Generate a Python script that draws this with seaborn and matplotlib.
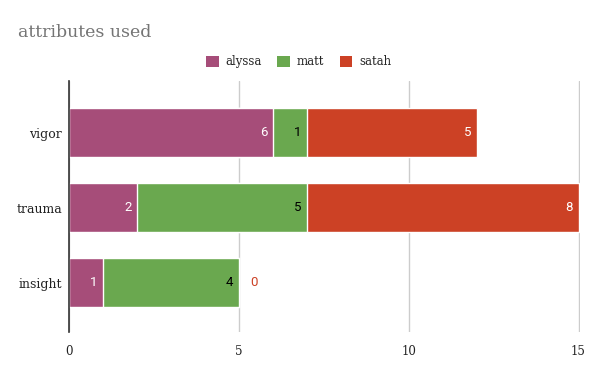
import matplotlib
matplotlib.use("Agg")
import matplotlib.pyplot as plt
import seaborn as sns
import pandas as pd
from matplotlib.patches import Patch

# data
categories = ["vigor", "trauma", "insight"]
alyssa = [6, 2, 1]
matt = [1, 5, 4]
satah = [5, 8, 0]
series_names = ["alyssa", "matt", "satah"]
colors = {"alyssa": "#a64d79", "matt": "#6aa84f", "satah": "#cc4125"}
label_colors = {"alyssa": "white", "matt": "black", "satah": "white"}
x_ticks = [0, 5, 10, 15]

df = pd.DataFrame({"attribute": categories, "alyssa": alyssa, "matt": matt, "satah": satah})
df["cum_alyssa"] = df["alyssa"]
df["cum_matt"] = df["cum_alyssa"] + df["matt"]
df["cum_satah"] = df["cum_matt"] + df["satah"]

sns.set_style("white")
serif = ["DejaVu Serif"]

fig = plt.figure(figsize=(6, 3.71), dpi=100)
ax = fig.add_axes([0.115, 0.105, 0.852, 0.677])

# stacked bars: draw cumulative totals from the top series down
for name in reversed(series_names):
    sns.barplot(data=df, y="attribute", x="cum_" + name, order=categories,
                color=colors[name], width=0.65, saturation=1, ax=ax, orient="y")

ax.set_ylim(2.66, -0.69)
ax.set_xlim(0, 15.05)
ax.set_xticks(x_ticks)
ax.set_xlabel("")
ax.set_ylabel("")
ax.grid(axis="x", color="#cccccc", linewidth=1)
ax.set_axisbelow(True)
for s in ["top", "right", "bottom"]:
    ax.spines[s].set_visible(False)
ax.spines["left"].set_color("#333333")
ax.spines["left"].set_linewidth(1.2)
ax.tick_params(axis="both", length=0)
ax.tick_params(axis="y", pad=5)
ax.tick_params(axis="x", pad=9)
for t in ax.get_yticklabels():
    t.set_fontfamily(serif)
    t.set_fontsize(9)
    t.set_color("#222222")
for t in ax.get_xticklabels():
    t.set_fontfamily(serif)
    t.set_fontsize(8.5)
    t.set_color("#222222")

# value labels at the end of each segment
containers = dict(zip(reversed(series_names), ax.containers))
for name in series_names:
    vals = df[name].tolist()
    for patch, v in zip(containers[name], vals):
        end = patch.get_x() + patch.get_width()
        yc = patch.get_y() + patch.get_height() / 2
        if v > 0:
            ax.annotate(str(v), (end, yc), xytext=(-4, 0), textcoords="offset points",
                        ha="right", va="center", fontsize=9.5, family="Roboto",
                        color=label_colors[name])
        else:
            ax.annotate(str(v), (end, yc), xytext=(8, 0), textcoords="offset points",
                        ha="left", va="center", fontsize=9.5, family="Roboto",
                        color=colors[name])

handles = [Patch(facecolor=colors[n], edgecolor="none") for n in series_names]
fig.legend(handles, series_names, loc="center", bbox_to_anchor=(0.498, 0.834), ncol=3,
           frameon=False, prop={"family": serif, "size": 8.5},
           handlelength=1.05, handleheight=1.05, handletextpad=0.6, columnspacing=1.3)

fig.text(0.03, 0.913, "attributes used", fontsize=12.5, family=serif, color="#757575",
         ha="left", va="center")

fig.savefig("out.png", dpi=100)
